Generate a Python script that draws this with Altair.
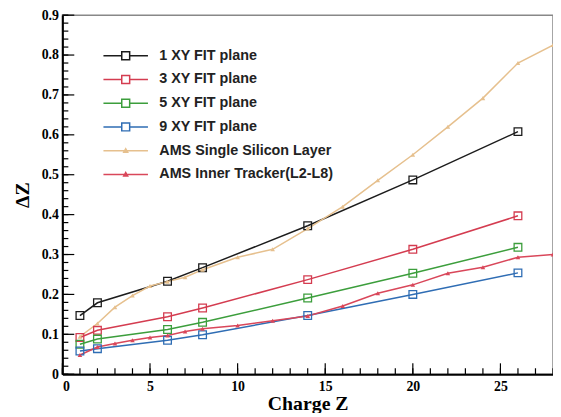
import altair as alt
import pandas as pd

# ---------------- data ----------------
charge_fit = [1, 2, 6, 8, 14, 20, 26]
fit1 = [0.147, 0.179, 0.233, 0.267, 0.372, 0.487, 0.608]
fit3 = [0.092, 0.110, 0.144, 0.166, 0.237, 0.313, 0.397]
fit5 = [0.075, 0.088, 0.112, 0.130, 0.191, 0.253, 0.318]
fit9 = [0.058, 0.064, 0.085, 0.099, 0.147, 0.200, 0.254]

charge_ams = [1, 2, 3, 4, 5, 6, 7, 8, 10, 12, 14, 16, 18, 20, 22, 24, 26, 28]
ams_single = [0.094, 0.127, 0.168, 0.197, 0.221, 0.232, 0.243, 0.262, 0.293,
              0.313, 0.365, 0.420, 0.486, 0.550, 0.620, 0.692, 0.780, 0.825]
ams_inner = [0.048, 0.068, 0.077, 0.085, 0.092, 0.097, 0.107, 0.114, 0.122,
             0.134, 0.146, 0.171, 0.203, 0.224, 0.253, 0.268, 0.293, 0.300]

series_names = ["1 XY FIT plane", "3 XY FIT plane", "5 XY FIT plane",
                "9 XY FIT plane", "AMS Single Silicon Layer",
                "AMS Inner Tracker(L2-L8)"]
series_colors = ["#1c1c1c", "#d43c50", "#3c9e3c", "#2f6db4", "#e6c08e", "#d9475a"]

x_major = [0, 5, 10, 15, 20, 25]
x_minor = list(range(0, 29))
y_major = [0.0, 0.1, 0.2, 0.3, 0.4, 0.5, 0.6, 0.7, 0.8, 0.9]
y_minor = [round(i * 0.02, 2) for i in range(0, 46)]

# ---------------- tables ----------------
color_of = dict(zip(series_names, series_colors))
rows = []
for name, vals in zip(series_names[:4], [fit1, fit3, fit5, fit9]):
    for z, v in zip(charge_fit, vals):
        rows.append({"Z": z, "dZ": v, "series": name, "kind": "fit",
                     "hex": color_of[name]})
for name, vals in zip(series_names[4:], [ams_single, ams_inner]):
    for z, v in zip(charge_ams, vals):
        rows.append({"Z": z, "dZ": v, "series": name, "kind": "ams",
                     "hex": color_of[name]})
df = pd.DataFrame(rows)

W, H = 496, 363

xscale = alt.Scale(domain=[0, 28], nice=False, zero=False)
yscale = alt.Scale(domain=[0, 0.9], nice=False)

xaxis = alt.Axis(
    values=x_major, ticks=False, grid=False, title="Charge Z",
    labelFont="Liberation Serif", labelFontWeight="bold", labelFontSize=14,
    labelColor="black", labelPadding=5, domainColor="black", domainWidth=2,
    titleFont="Liberation Serif", titleFontWeight="bold", titleFontSize=20,
    titleColor="black", titlePadding=1)
yaxis = alt.Axis(
    values=y_major, ticks=False, grid=False, title="ΔZ",
    labelExpr="datum.value == 0 ? '0' : format(datum.value, '.1f')",
    labelFont="Liberation Serif", labelFontWeight="bold", labelFontSize=14,
    labelColor="black", labelPadding=4, domainColor="black", domainWidth=2,
    titleFont="Liberation Serif", titleFontWeight="bold", titleFontSize=20,
    titleColor="black", titlePadding=9)


def X(field):
    return alt.X(field, type="quantitative", scale=xscale, axis=xaxis)


def Y(field):
    return alt.Y(field, type="quantitative", scale=yscale, axis=yaxis)


# legend glyphs: a 45px line with an open square / small filled triangle
# (symbol size 400 -> unit = 10px)
sq_path = "M-2.25,0L-0.42,0M0.42,0L2.25,0M-0.4,-0.4L0.4,-0.4L0.4,0.4L-0.4,0.4Z"
tri_path = "M-2.25,0L2.25,0M-0.2,0.16L0.2,0.16L0,-0.2Z"
shape_scale = alt.Scale(domain=series_names,
                        range=[sq_path] * 4 + [tri_path] * 2)
cscale = alt.Scale(domain=series_names, range=series_colors)

legend = alt.Legend(
    title=None, orient="none", legendX=50, legendY=27,
    labelFont="Liberation Sans", labelFontWeight="bold", labelFontSize=14.5,
    labelColor="#222222", labelOffset=23, rowPadding=6, labelLimit=400,
    symbolSize=400, symbolStrokeWidth=1.5, fillColor="white", padding=3,
)

base = alt.Chart(df)
hexcolor = alt.Color("hex:N", scale=None)

lines = base.mark_line(strokeWidth=1.5).encode(
    x=X("Z"), y=Y("dZ"), color=hexcolor, detail="series:N", order="Z:Q")

squares = base.transform_filter("datum.kind == 'fit'").mark_point(
    shape="square", filled=False, size=60, strokeWidth=1.3, opacity=1
).encode(x=X("Z"), y=Y("dZ"), color=hexcolor)

tris = base.transform_filter("datum.kind == 'ams'").mark_point(
    shape="triangle-up", filled=True, size=22, opacity=1
).encode(x=X("Z"), y=Y("dZ"), color=hexcolor)

legend_layer = base.transform_filter("datum.Z < 0").mark_point(
    filled=False, size=400, strokeWidth=1.5, opacity=1
).encode(
    x=X("Z"), y=Y("dZ"),
    color=alt.Color("series:N", scale=cscale, legend=legend),
    shape=alt.Shape("series:N", scale=shape_scale, legend=legend),
)

ytick_major = alt.Chart(pd.DataFrame({"v": y_major})).mark_rule(
    color="black", strokeWidth=1.2).encode(
    y=Y("v"), x=alt.value(0), x2=alt.value(12))
ytick_minor = alt.Chart(pd.DataFrame({"v": y_minor})).mark_rule(
    color="black", strokeWidth=1.2).encode(
    y=Y("v"), x=alt.value(0), x2=alt.value(6))
xtick_major = alt.Chart(pd.DataFrame({"v": x_major})).mark_rule(
    color="black", strokeWidth=1.2).encode(
    x=X("v"), y=alt.value(H), y2=alt.value(H - 11))
xtick_minor = alt.Chart(pd.DataFrame({"v": x_minor})).mark_rule(
    color="black", strokeWidth=1.2).encode(
    x=X("v"), y=alt.value(H), y2=alt.value(H - 6))

chart = alt.layer(
    lines, squares, tris, legend_layer,
    ytick_major, ytick_minor, xtick_major, xtick_minor,
).properties(
    width=W, height=H,
    autosize=alt.AutoSizeParams(type="none"),
    padding={"left": 55, "top": 5, "right": 0, "bottom": 37},
    background="white",
).configure_view(
    stroke="#888888", strokeWidth=1.5
)

chart.save("out.html", embed_options={"renderer": "svg", "actions": False})
